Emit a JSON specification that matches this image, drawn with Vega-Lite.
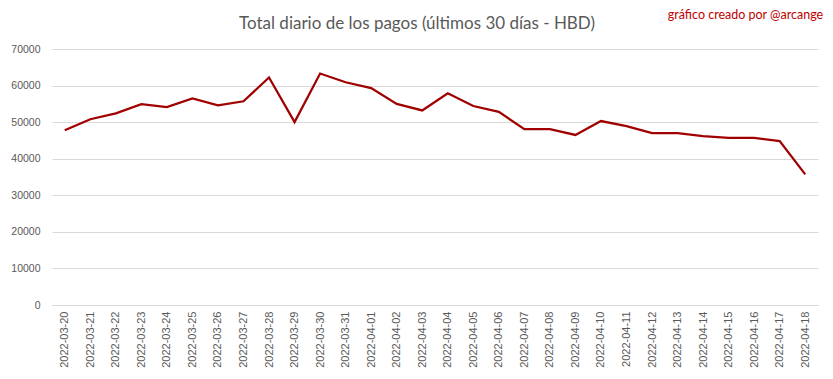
{
  "$schema": "https://vega.github.io/schema/vega-lite/v6.json",
  "autosize": {"type": "none"},
  "width": 766,
  "height": 256,
  "padding": {"left": 52, "top": 49, "right": 15, "bottom": 74},
  "background": "white",
  "title": {
    "text": "Total diario de los pagos (últimos 30 días - HBD)",
    "font": "Lato",
    "fontSize": 17,
    "fontWeight": "normal",
    "color": "#595959",
    "anchor": "middle",
    "dx": -18,
    "offset": -24
  },
  "data": {
    "values": [
      {"fecha": "2022-03-20", "total": 47800},
      {"fecha": "2022-03-21", "total": 50800},
      {"fecha": "2022-03-22", "total": 52400},
      {"fecha": "2022-03-23", "total": 54900},
      {"fecha": "2022-03-24", "total": 54100},
      {"fecha": "2022-03-25", "total": 56500},
      {"fecha": "2022-03-26", "total": 54600},
      {"fecha": "2022-03-27", "total": 55700},
      {"fecha": "2022-03-28", "total": 62200},
      {"fecha": "2022-03-29", "total": 50000},
      {"fecha": "2022-03-30", "total": 63300},
      {"fecha": "2022-03-31", "total": 60900},
      {"fecha": "2022-04-01", "total": 59300},
      {"fecha": "2022-04-02", "total": 55000},
      {"fecha": "2022-04-03", "total": 53200},
      {"fecha": "2022-04-04", "total": 57900},
      {"fecha": "2022-04-05", "total": 54400},
      {"fecha": "2022-04-06", "total": 52800},
      {"fecha": "2022-04-07", "total": 48100},
      {"fecha": "2022-04-08", "total": 48100},
      {"fecha": "2022-04-09", "total": 46500},
      {"fecha": "2022-04-10", "total": 50300},
      {"fecha": "2022-04-11", "total": 48900},
      {"fecha": "2022-04-12", "total": 47000},
      {"fecha": "2022-04-13", "total": 47000},
      {"fecha": "2022-04-14", "total": 46200},
      {"fecha": "2022-04-15", "total": 45700},
      {"fecha": "2022-04-16", "total": 45700},
      {"fecha": "2022-04-17", "total": 44800},
      {"fecha": "2022-04-18", "total": 35700}
    ]
  },
  "layer": [
    {
      "mark": {"type": "line", "color": "#A00000", "strokeWidth": 2.25},
      "encoding": {
        "x": {
          "field": "fecha",
          "type": "ordinal",
          "sort": null,
          "scale": {"paddingInner": 0, "paddingOuter": 0},
          "axis": {"title": null}
        },
        "y": {
          "field": "total",
          "type": "quantitative",
          "scale": {"domain": [0, 70000], "nice": false},
          "axis": {"title": null}
        }
      }
    },
    {
      "data": {"values": [{}]},
      "mark": {
        "type": "text",
        "text": "gráfico creado por @arcange",
        "font": "Lato",
        "fontSize": 12.5,
        "color": "#C00000",
        "align": "right",
        "baseline": "alphabetic",
        "dx": 18,
        "dy": -30
      },
      "encoding": {
        "x": {"datum": "2022-04-18"},
        "y": {"datum": 70000}
      }
    }
  ],
  "config": {
    "view": {"stroke": null},
    "axisX": {
      "labelAngle": -90,
      "labelFont": "Liberation Sans",
      "labelFontSize": 11,
      "labelColor": "#595959",
      "labelPadding": 6,
      "ticks": false,
      "domain": true,
      "domainColor": "#d9d9d9",
      "grid": false
    },
    "axisY": {
      "tickCount": 7,
      "labelOverlap": false,
      "format": "d",
      "labelFont": "Liberation Sans",
      "labelFontSize": 10.5,
      "labelColor": "#595959",
      "labelPadding": 12,
      "ticks": false,
      "domain": false,
      "grid": true,
      "gridColor": "#d9d9d9",
      "gridWidth": 1
    }
  }
}
